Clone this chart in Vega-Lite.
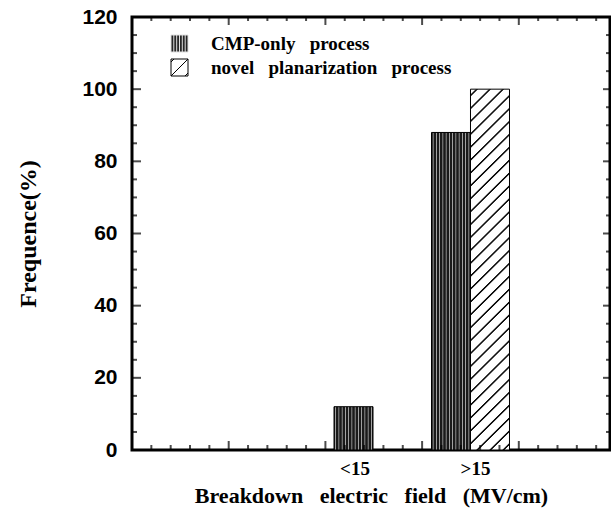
{
  "$schema": "https://vega.github.io/schema/vega-lite/v6.json",
  "autosize": "none",
  "width": 478,
  "height": 433,
  "padding": {"left": 132, "top": 17, "right": 1, "bottom": 59},
  "background": "white",
  "config": {
    "view": {"stroke": "black", "strokeWidth": 3},
    "axis": {"grid": false, "domain": false}
  },
  "datasets": {
    "bars": [
      {"range": "<15", "series": "CMP-only process", "value": 12},
      {"range": ">15", "series": "CMP-only process", "value": 88},
      {"range": "<15", "series": "novel planarization process", "value": 0},
      {"range": ">15", "series": "novel planarization process", "value": 100}
    ],
    "yticks": [
      {"v": 0}, {"v": 5}, {"v": 10}, {"v": 15}, {"v": 20}, {"v": 25}, {"v": 30}, {"v": 35}, {"v": 40}, {"v": 45},
      {"v": 50}, {"v": 55}, {"v": 60}, {"v": 65}, {"v": 70}, {"v": 75}, {"v": 80}, {"v": 85}, {"v": 90}, {"v": 95},
      {"v": 100}, {"v": 105}, {"v": 110}, {"v": 115}, {"v": 120}
    ],
    "xticks": [
      {"u": 0}, {"u": 0.2}, {"u": 0.4}, {"u": 0.6}, {"u": 0.8}, {"u": 1}, {"u": 1.2}, {"u": 1.4}, {"u": 1.6}, {"u": 1.8},
      {"u": 2}, {"u": 2.2}, {"u": 2.4}, {"u": 2.6}, {"u": 2.8}, {"u": 3}, {"u": 3.2}, {"u": 3.4}, {"u": 3.6}, {"u": 3.8},
      {"u": 4}, {"u": 4.2}, {"u": 4.4}, {"u": 4.6}, {"u": 4.8}
    ]
  },
  "resolve": {"scale": {"x": "independent"}, "axis": {"x": "independent", "y": "independent"}},
  "layer": [
    {
      "data": {"name": "bars"},
      "mark": {"type": "bar", "stroke": "black", "strokeWidth": 1},
      "encoding": {
        "x": {
          "field": "range", "type": "nominal",
          "scale": {"domain": ["a", "b", "<15", ">15", "c"], "paddingInner": 0.2, "paddingOuter": 0.0515, "align": 0.7},
          "axis": {
            "orient": "bottom", "ticks": false, "domain": false, "labelAngle": 0,
            "labelExpr": "datum.label === '<15' || datum.label === '>15' ? datum.label : ''",
            "labelOffset": {"condition": {"test": "datum.label === '<15'", "value": -18}, "value": 5},
            "labelFont": "Liberation Serif", "labelFontWeight": "bold", "labelFontSize": 19, "labelColor": "black",
            "labelPadding": 9, "labelBaseline": "top",
            "title": "Breakdown\u2002 electric\u2002 field\u2002 (MV/cm)",
            "titleFont": "Liberation Serif", "titleFontWeight": "bold", "titleFontSize": 22, "titleColor": "black",
            "titlePadding": 7
          }
        },
        "xOffset": {
          "field": "series", "type": "nominal",
          "scale": {"domain": ["CMP-only process", "novel planarization process"], "paddingInner": 0, "paddingOuter": 0}
        },
        "y": {
          "field": "value", "type": "quantitative",
          "scale": {"domain": [0, 120], "nice": false},
          "axis": {
            "orient": "left", "ticks": false,
            "values": [0, 20, 40, 60, 80, 100, 120],
            "labelFont": "Liberation Sans", "labelFontWeight": "bold", "labelFontSize": 21, "labelColor": "black",
            "labelPadding": 15,
            "title": "Frequence(%)",
            "titleFont": "Liberation Serif", "titleFontWeight": "bold", "titleFontSize": 24, "titleColor": "black",
            "titlePadding": 41
          }
        },
        "fill": {
          "condition": {
            "test": "datum.series === 'novel planarization process'",
            "value": {"gradient": "linear", "x1": 0, "y1": 0, "x2": 0.1168, "y2": 1.094, "stops": [
                {"offset": 0, "color": "#fff"},
                {"offset": 0.012, "color": "#fff"}, {"offset": 0.0145, "color": "#111"}, {"offset": 0.0175, "color": "#111"}, {"offset": 0.02, "color": "#fff"},
                {"offset": 0.0443, "color": "#fff"}, {"offset": 0.0468, "color": "#111"}, {"offset": 0.0498, "color": "#111"}, {"offset": 0.0523, "color": "#fff"},
                {"offset": 0.0766, "color": "#fff"}, {"offset": 0.0791, "color": "#111"}, {"offset": 0.0821, "color": "#111"}, {"offset": 0.0846, "color": "#fff"},
                {"offset": 0.1089, "color": "#fff"}, {"offset": 0.1114, "color": "#111"}, {"offset": 0.1144, "color": "#111"}, {"offset": 0.1169, "color": "#fff"},
                {"offset": 0.1412, "color": "#fff"}, {"offset": 0.1437, "color": "#111"}, {"offset": 0.1467, "color": "#111"}, {"offset": 0.1492, "color": "#fff"},
                {"offset": 0.1735, "color": "#fff"}, {"offset": 0.176, "color": "#111"}, {"offset": 0.179, "color": "#111"}, {"offset": 0.1815, "color": "#fff"},
                {"offset": 0.2058, "color": "#fff"}, {"offset": 0.2083, "color": "#111"}, {"offset": 0.2113, "color": "#111"}, {"offset": 0.2138, "color": "#fff"},
                {"offset": 0.2381, "color": "#fff"}, {"offset": 0.2406, "color": "#111"}, {"offset": 0.2436, "color": "#111"}, {"offset": 0.2461, "color": "#fff"},
                {"offset": 0.2704, "color": "#fff"}, {"offset": 0.2729, "color": "#111"}, {"offset": 0.2759, "color": "#111"}, {"offset": 0.2784, "color": "#fff"},
                {"offset": 0.3027, "color": "#fff"}, {"offset": 0.3052, "color": "#111"}, {"offset": 0.3082, "color": "#111"}, {"offset": 0.3107, "color": "#fff"},
                {"offset": 0.335, "color": "#fff"}, {"offset": 0.3375, "color": "#111"}, {"offset": 0.3405, "color": "#111"}, {"offset": 0.343, "color": "#fff"},
                {"offset": 0.3673, "color": "#fff"}, {"offset": 0.3698, "color": "#111"}, {"offset": 0.3728, "color": "#111"}, {"offset": 0.3753, "color": "#fff"},
                {"offset": 0.3996, "color": "#fff"}, {"offset": 0.4021, "color": "#111"}, {"offset": 0.4051, "color": "#111"}, {"offset": 0.4076, "color": "#fff"},
                {"offset": 0.4319, "color": "#fff"}, {"offset": 0.4344, "color": "#111"}, {"offset": 0.4374, "color": "#111"}, {"offset": 0.4399, "color": "#fff"},
                {"offset": 0.4642, "color": "#fff"}, {"offset": 0.4667, "color": "#111"}, {"offset": 0.4697, "color": "#111"}, {"offset": 0.4722, "color": "#fff"},
                {"offset": 0.4965, "color": "#fff"}, {"offset": 0.499, "color": "#111"}, {"offset": 0.502, "color": "#111"}, {"offset": 0.5045, "color": "#fff"},
                {"offset": 0.5288, "color": "#fff"}, {"offset": 0.5313, "color": "#111"}, {"offset": 0.5343, "color": "#111"}, {"offset": 0.5368, "color": "#fff"},
                {"offset": 0.5611, "color": "#fff"}, {"offset": 0.5636, "color": "#111"}, {"offset": 0.5666, "color": "#111"}, {"offset": 0.5691, "color": "#fff"},
                {"offset": 0.5934, "color": "#fff"}, {"offset": 0.5959, "color": "#111"}, {"offset": 0.5989, "color": "#111"}, {"offset": 0.6014, "color": "#fff"},
                {"offset": 0.6257, "color": "#fff"}, {"offset": 0.6282, "color": "#111"}, {"offset": 0.6312, "color": "#111"}, {"offset": 0.6337, "color": "#fff"},
                {"offset": 0.658, "color": "#fff"}, {"offset": 0.6605, "color": "#111"}, {"offset": 0.6635, "color": "#111"}, {"offset": 0.666, "color": "#fff"},
                {"offset": 0.6903, "color": "#fff"}, {"offset": 0.6928, "color": "#111"}, {"offset": 0.6958, "color": "#111"}, {"offset": 0.6983, "color": "#fff"},
                {"offset": 0.7226, "color": "#fff"}, {"offset": 0.7251, "color": "#111"}, {"offset": 0.7281, "color": "#111"}, {"offset": 0.7306, "color": "#fff"},
                {"offset": 0.7549, "color": "#fff"}, {"offset": 0.7574, "color": "#111"}, {"offset": 0.7604, "color": "#111"}, {"offset": 0.7629, "color": "#fff"},
                {"offset": 0.7872, "color": "#fff"}, {"offset": 0.7897, "color": "#111"}, {"offset": 0.7927, "color": "#111"}, {"offset": 0.7952, "color": "#fff"},
                {"offset": 0.8195, "color": "#fff"}, {"offset": 0.822, "color": "#111"}, {"offset": 0.825, "color": "#111"}, {"offset": 0.8275, "color": "#fff"},
                {"offset": 0.8518, "color": "#fff"}, {"offset": 0.8543, "color": "#111"}, {"offset": 0.8573, "color": "#111"}, {"offset": 0.8598, "color": "#fff"},
                {"offset": 0.8841, "color": "#fff"}, {"offset": 0.8866, "color": "#111"}, {"offset": 0.8896, "color": "#111"}, {"offset": 0.8921, "color": "#fff"},
                {"offset": 0.9164, "color": "#fff"}, {"offset": 0.9189, "color": "#111"}, {"offset": 0.9219, "color": "#111"}, {"offset": 0.9244, "color": "#fff"},
                {"offset": 0.9487, "color": "#fff"}, {"offset": 0.9512, "color": "#111"}, {"offset": 0.9542, "color": "#111"}, {"offset": 0.9567, "color": "#fff"},
                {"offset": 0.981, "color": "#fff"}, {"offset": 0.9835, "color": "#111"}, {"offset": 0.9865, "color": "#111"}, {"offset": 0.989, "color": "#fff"},
                {"offset": 1, "color": "#fff"}
            ]}
          },
          "value": {"gradient": "linear", "x1": 0, "y1": 0, "x2": 1, "y2": 0, "stops": [
                {"offset": 0, "color": "#1a1a1a"},
                {"offset": 0.0217, "color": "#1a1a1a"}, {"offset": 0.0417, "color": "#bbbbbb"}, {"offset": 0.0617, "color": "#1a1a1a"},
                {"offset": 0.105, "color": "#1a1a1a"}, {"offset": 0.125, "color": "#bbbbbb"}, {"offset": 0.145, "color": "#1a1a1a"},
                {"offset": 0.1883, "color": "#1a1a1a"}, {"offset": 0.2083, "color": "#bbbbbb"}, {"offset": 0.2283, "color": "#1a1a1a"},
                {"offset": 0.2717, "color": "#1a1a1a"}, {"offset": 0.2917, "color": "#bbbbbb"}, {"offset": 0.3117, "color": "#1a1a1a"},
                {"offset": 0.355, "color": "#1a1a1a"}, {"offset": 0.375, "color": "#bbbbbb"}, {"offset": 0.395, "color": "#1a1a1a"},
                {"offset": 0.4383, "color": "#1a1a1a"}, {"offset": 0.4583, "color": "#bbbbbb"}, {"offset": 0.4783, "color": "#1a1a1a"},
                {"offset": 0.5217, "color": "#1a1a1a"}, {"offset": 0.5417, "color": "#bbbbbb"}, {"offset": 0.5617, "color": "#1a1a1a"},
                {"offset": 0.605, "color": "#1a1a1a"}, {"offset": 0.625, "color": "#bbbbbb"}, {"offset": 0.645, "color": "#1a1a1a"},
                {"offset": 0.6883, "color": "#1a1a1a"}, {"offset": 0.7083, "color": "#bbbbbb"}, {"offset": 0.7283, "color": "#1a1a1a"},
                {"offset": 0.7717, "color": "#1a1a1a"}, {"offset": 0.7917, "color": "#bbbbbb"}, {"offset": 0.8117, "color": "#1a1a1a"},
                {"offset": 0.855, "color": "#1a1a1a"}, {"offset": 0.875, "color": "#bbbbbb"}, {"offset": 0.895, "color": "#1a1a1a"},
                {"offset": 0.9383, "color": "#1a1a1a"}, {"offset": 0.9583, "color": "#bbbbbb"}, {"offset": 0.9783, "color": "#1a1a1a"},
                {"offset": 1, "color": "#1a1a1a"}
          ]}
        }
      }
    },
    {
      "data": {"name": "yticks"},
      "mark": {"type": "tick", "orient": "horizontal", "color": "black", "thickness": 2, "clip": true},
      "encoding": {
        "y": {"field": "v", "type": "quantitative", "scale": {"domain": [0, 120], "nice": false}, "axis": null},
        "x": {"datum": 0, "type": "quantitative", "scale": {"domain": [0, 4.943], "nice": false, "zero": false}, "axis": null},
        "size": {"condition": {"test": "datum.v % 20 === 0", "value": 18}, "value": 10}
      }
    },
    {
      "data": {"name": "yticks"},
      "mark": {"type": "tick", "orient": "horizontal", "color": "black", "thickness": 2, "clip": true},
      "encoding": {
        "y": {"field": "v", "type": "quantitative", "scale": {"domain": [0, 120], "nice": false}, "axis": null},
        "x": {"datum": 4.943, "type": "quantitative", "scale": {"domain": [0, 4.943], "nice": false, "zero": false}, "axis": null},
        "size": {"condition": {"test": "datum.v % 20 === 0", "value": 14}, "value": 8}
      }
    },
    {
      "data": {"name": "xticks"},
      "mark": {"type": "tick", "orient": "vertical", "color": "black", "thickness": 2, "clip": true},
      "encoding": {
        "x": {"field": "u", "type": "quantitative", "scale": {"domain": [0, 4.943], "nice": false, "zero": false}, "axis": null},
        "y": {"datum": 0, "type": "quantitative", "scale": {"domain": [0, 120], "nice": false}, "axis": null},
        "size": {"condition": {"test": "abs(datum.u - round(datum.u)) < 0.01", "value": 18}, "value": 10}
      }
    },
    {
      "data": {"name": "xticks"},
      "mark": {"type": "tick", "orient": "vertical", "color": "black", "thickness": 2, "clip": true},
      "encoding": {
        "x": {"field": "u", "type": "quantitative", "scale": {"domain": [0, 4.943], "nice": false, "zero": false}, "axis": null},
        "y": {"datum": 120, "type": "quantitative", "scale": {"domain": [0, 120], "nice": false}, "axis": null},
        "size": {"condition": {"test": "abs(datum.u - round(datum.u)) < 0.01", "value": 16}, "value": 8}
      }
    },
    {
      "data": {"name": "bars"},
      "mark": {"type": "point", "opacity": 0, "filled": true},
      "encoding": {
        "shape": {
          "field": "series", "type": "nominal",
          "scale": {
            "domain": ["CMP-only process", "novel planarization process"],
            "range": [
              "M-1,-1H1V1H-1Z M-0.67,-1V1 M-0.33,-1V1 M0,-1V1 M0.33,-1V1 M0.67,-1V1",
              "M-1,-1H1V1H-1Z M-1,1L1,-1 M-1,-0.65L-0.65,-1 M0.65,1L1,0.65"
            ]
          },
          "legend": {
            "orient": "none", "legendX": 38, "legendY": 17, "padding": 0, "title": null,
            "symbolSize": 289, "symbolStrokeWidth": 1, "symbolOpacity": 1,
            "labelFont": "Liberation Serif", "labelFontWeight": "bold", "labelFontSize": 19, "labelColor": "black",
            "labelOffset": 22, "rowPadding": 3, "labelLimit": 400,
            "labelExpr": "replace(datum.label, / /g, '\u2002 ')"
          }
        },
        "fill": {
          "field": "series", "type": "nominal",
          "scale": {"domain": ["CMP-only process", "novel planarization process"], "range": ["#262626", "#ffffff"]}
        },
        "stroke": {
          "field": "series", "type": "nominal",
          "scale": {"domain": ["CMP-only process", "novel planarization process"], "range": ["#e0e0e0", "#000000"]}
        }
      }
    }
  ]
}
